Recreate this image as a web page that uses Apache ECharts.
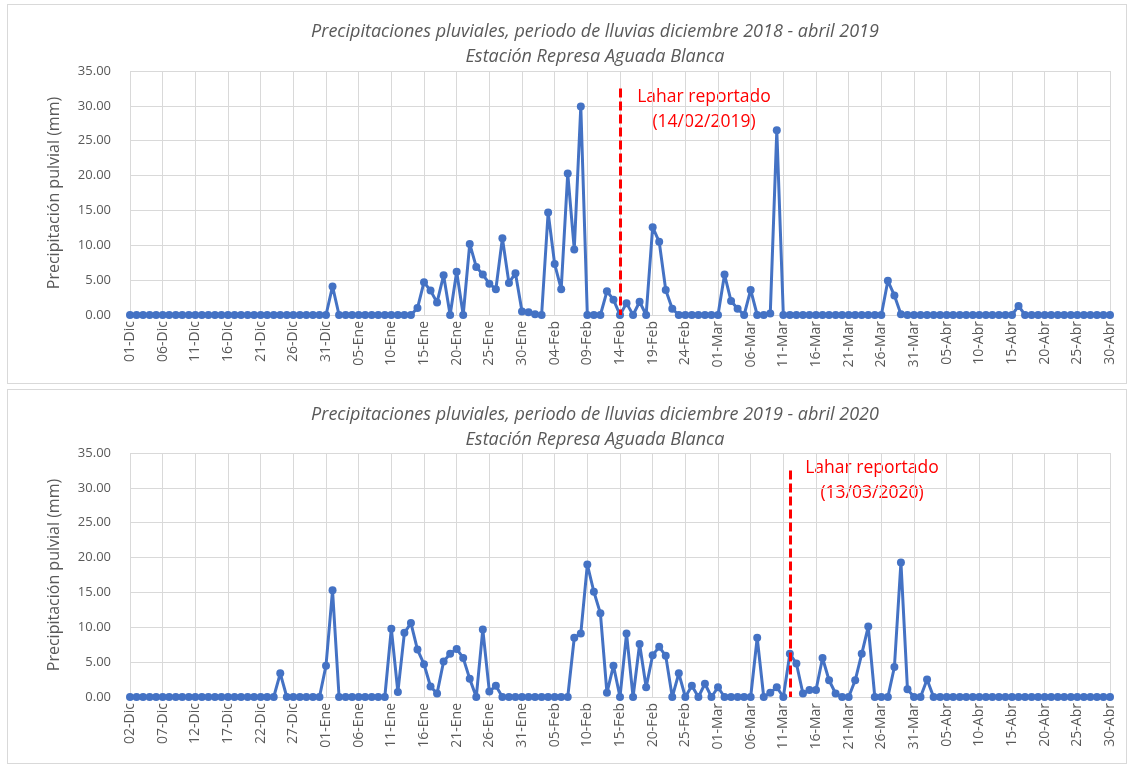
<!DOCTYPE html>
<html>
<head>
<meta charset="utf-8">
<script src="https://cdn.jsdelivr.net/npm/echarts@6/dist/echarts.min.js"></script>
<style>
  html, body { margin: 0; padding: 0; background: #fff; }
  .box { position: absolute; left: 7px; width: 1120px; border: 1px solid #d9d9d9; box-sizing: border-box; }
  #top { top: 4px; height: 380px; }
  #bottom { top: 389px; height: 375px; }
</style>
</head>
<body>
<div id="top" class="box"></div>
<div id="bottom" class="box"></div>
<script>
// months of each season: [label, days]
const monthsTop = [['Dic', 31], ['Ene', 31], ['Feb', 28], ['Mar', 31], ['Abr', 30]];
const monthsBottom = [['Dic', 31], ['Ene', 31], ['Feb', 29], ['Mar', 31], ['Abr', 30]];
const firstDayTop = 1;
const firstDayBottom = 2;

const titleTop = 'Precipitaciones pluviales, periodo de lluvias diciembre 2018 - abril 2019';
const titleBottom = 'Precipitaciones pluviales, periodo de lluvias diciembre 2019 - abril 2020';
const subtitle = 'Estación Represa Aguada Blanca';
const yName = 'Precipitación pulvial (mm)';

// daily rainfall (mm), 01-Dic-2018 .. 30-Abr-2019
const rainTop = [
  0, 0, 0, 0, 0, 0, 0, 0, 0, 0, 0, 0, 0, 0, 0, 0, 0, 0, 0, 0, 0, 0, 0, 0, 0, 0, 0, 0, 0, 0, 0,
  4.1,
  0, 0, 0, 0, 0, 0, 0, 0, 0, 0, 0, 0,
  1.0, 4.7, 3.5, 1.8, 5.7, 0, 6.2, 0, 10.2, 6.9, 5.8, 4.5, 3.7, 11.0, 4.6, 6.0, 0.5, 0.4, 0.1, 0,
  14.7, 7.3, 3.7, 20.3, 9.4, 29.9,
  0, 0, 0,
  3.4, 2.2, 0, 1.7, 0, 1.9, 0, 12.6, 10.5, 3.6, 0.9,
  0, 0, 0, 0, 0, 0, 0,
  5.8, 2.0, 0.9, 0, 3.6, 0, 0, 0.2, 26.5,
  0, 0, 0, 0, 0, 0, 0, 0, 0, 0, 0, 0, 0, 0, 0, 0,
  4.9, 2.8, 0.1,
  0, 0, 0, 0, 0, 0, 0, 0, 0, 0, 0, 0, 0, 0, 0, 0, 0,
  1.3,
  0, 0, 0, 0, 0, 0, 0, 0, 0, 0, 0, 0, 0, 0
];

// daily rainfall (mm), 02-Dic-2019 .. 30-Abr-2020
const rainBottom = [
  0, 0, 0, 0, 0, 0, 0, 0, 0, 0, 0, 0, 0, 0, 0, 0, 0, 0, 0, 0, 0, 0, 0,
  3.4,
  0, 0, 0, 0, 0, 0,
  4.5, 15.3,
  0, 0, 0, 0, 0, 0, 0, 0,
  9.8, 0.7, 9.2, 10.6, 6.8, 4.7, 1.5, 0.5, 5.1, 6.2, 6.9, 5.6, 2.6, 0, 9.7, 0.8, 1.6,
  0, 0, 0, 0, 0, 0, 0, 0, 0, 0, 0,
  8.5, 9.1, 19.0, 15.1, 12.0, 0.6, 4.5, 0, 9.1, 0, 7.6, 1.4, 6.0, 7.2, 5.9, 0, 3.4, 0, 1.6, 0, 1.9, 0, 1.4,
  0, 0, 0, 0, 0,
  8.5, 0, 0.6, 1.4, 0, 6.2, 4.8, 0.5, 1.0, 1.0, 5.6, 2.4, 0.5, 0, 0, 2.4, 6.2, 10.1, 0, 0, 0, 4.3, 19.3, 1.1, 0, 0, 2.5,
  0, 0, 0, 0, 0, 0, 0, 0, 0, 0, 0, 0, 0, 0, 0, 0, 0, 0, 0, 0, 0, 0, 0, 0, 0, 0, 0, 0
];

// reported lahar: day on the axis where the dashed line is drawn, and its label
const laharTop = { day: '14-Feb', label: 'Lahar reportado\n(14/02/2019)' };
const laharBottom = { day: '12-Mar', label: 'Lahar reportado\n(13/03/2020)' };

const FONT = '"Open Sans", sans-serif';
const GREY = '#595959';

function buildDays(months, firstDay) {
  const out = [];
  months.forEach(([name, n], k) => {
    for (let d = k === 0 ? firstDay : 1; d <= n; d++) {
      out.push(String(d).padStart(2, '0') + '-' + name);
    }
  });
  return out;
}

function makeChart(id, title, days, values, lahar, opts) {
  const chart = echarts.init(document.getElementById(id), null, { renderer: 'canvas' });
  chart.setOption({
    animation: false,
    textStyle: { fontFamily: FONT },
    title: {
      text: title + '\n' + subtitle,
      left: opts.titleX,
      top: opts.titleTop,
      textAlign: 'center',
      textStyle: { fontFamily: FONT, fontSize: 18, fontStyle: 'italic', fontWeight: 'normal', color: GREY, lineHeight: 25 }
    },
    grid: { left: 122, right: 16, top: opts.gridTop, bottom: opts.gridBottom },
    xAxis: {
      type: 'category',
      data: days,
      boundaryGap: false,
      axisLine: { lineStyle: { color: '#d9d9d9', width: 1 } },
      axisTick: { show: false },
      axisLabel: { interval: 4, rotate: 90, fontSize: 14, color: GREY, margin: 6, fontFamily: FONT },
      splitLine: { show: true, interval: 4, lineStyle: { color: '#d9d9d9', width: 1 } }
    },
    yAxis: {
      type: 'value',
      min: 0,
      max: 35,
      interval: 5,
      name: yName,
      nameLocation: 'middle',
      nameRotate: 90,
      nameGap: 68,
      nameTextStyle: { fontSize: 16, color: GREY, fontFamily: FONT },
      axisLine: { show: false },
      axisTick: { show: false },
      axisLabel: { fontSize: 13, color: GREY, margin: 19, fontFamily: FONT, formatter: v => v.toFixed(2) },
      splitLine: { lineStyle: { color: '#d9d9d9', width: 1 } }
    },
    series: [{
      type: 'line',
      data: values,
      symbol: 'circle',
      symbolSize: 8,
      showAllSymbol: true,
      itemStyle: { color: '#4472c4' },
      lineStyle: { color: '#4472c4', width: 3 },
      markLine: {
        silent: true,
        symbol: 'none',
        label: { show: false },
        lineStyle: { color: '#ff0000', width: 3, type: [9, 4] },
        data: [[{ coord: [lahar.day, 32.5] }, { coord: [lahar.day, 0] }]]
      }
    }],
    graphic: [{
      type: 'text',
      x: opts.noteX,
      y: opts.noteY,
      style: {
        text: lahar.label,
        fill: '#ff0000',
        font: '17.5px ' + FONT,
        align: 'center',
        verticalAlign: 'top',
        lineHeight: 25
      }
    }]
  });
  return chart;
}

makeChart('top', titleTop, buildDays(monthsTop, firstDayTop), rainTop, laharTop,
  { titleX: 582, titleTop: 9, gridTop: 66, gridBottom: 68, noteX: 696, noteY: 80 });
makeChart('bottom', titleBottom, buildDays(monthsBottom, firstDayBottom), rainBottom, laharBottom,
  { titleX: 582, titleTop: 7, gridTop: 63, gridBottom: 66, noteX: 864, noteY: 66 });
</script>
</body>
</html>
